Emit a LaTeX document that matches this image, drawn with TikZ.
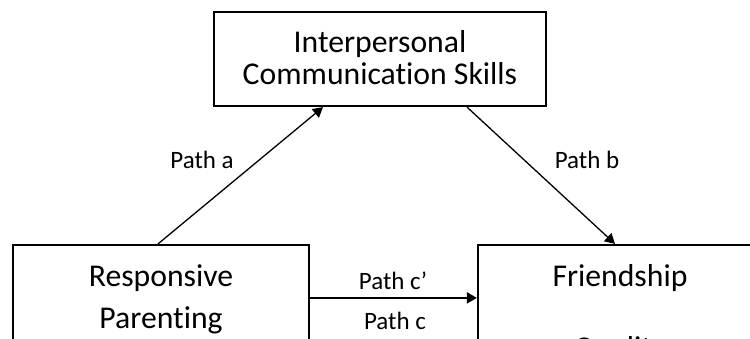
\documentclass[tikz,border=0pt]{standalone}
\usepackage{fontspec}
\setmainfont{Carlito}[Ligatures={NoCommon,NoContextual}]
\usetikzlibrary{arrows.meta,calc}

\tikzset{
  varbox/.style={draw, line width=2.2pt, rectangle, inner sep=0pt},
  boxtext/.style={font=\fontsize{31.7}{33.5}\selectfont, align=center, inner sep=0pt, anchor=base},
  pathlabel/.style={font=\fontsize{25}{28}\selectfont, inner sep=0pt, anchor=base},
  effect/.style={-{Triangle[length=10pt,width=11pt]}, line width=1.3pt},
}

\begin{document}
\begin{tikzpicture}[x=1pt, y=-1pt]
  \useasboundingbox (0,0) rectangle (750,338);
  \clip (0,0) rectangle (750,338);

  % the three variables
  \node[varbox, minimum width=332pt, minimum height=94pt] (ics) at (380,59) {};
  \node[varbox, minimum width=296pt, minimum height=190pt] (rp) at (161,340) {};
  \node[varbox, minimum width=284pt, minimum height=190pt] (fq) at (620,340) {};

  % their names
  \node[boxtext] (icsA) at ([yshift=-41.3pt]ics.north) {Interpersonal};
  \node[boxtext] (icsB) at ([yshift=-74pt]ics.north) {Communication Skills};
  \node[boxtext] (rpA) at ([yshift=-43pt]rp.north) {Responsive};
  \node[boxtext] (rpB) at ([yshift=-85pt]rp.north) {Parenting};
  \node[boxtext] (fqA) at ([yshift=-43pt]fq.north) {Friendship};
  \node[boxtext] (fqB) at ([yshift=-115pt]fq.north) {Quality};

  % paths between them
  \draw[effect] ([xshift=-3pt]rp.north) -- ([xshift=-57pt]ics.south);
  \draw[effect] ([xshift=87pt]ics.south) -- ([xshift=-5pt]fq.north);
  \draw[effect, line width=2pt] ([yshift=-54pt]rp.north east) -- ([yshift=-54pt]fq.north west);

  % path labels
  \node[pathlabel] (la) at (202,168) {Path a};
  \node[pathlabel] (lb) at (587,168) {Path b};
  \node[pathlabel] (lcp) at (393,289) {Path c’};
  \node[pathlabel] (lc) at (395,329) {Path c};
\end{tikzpicture}
\end{document}
